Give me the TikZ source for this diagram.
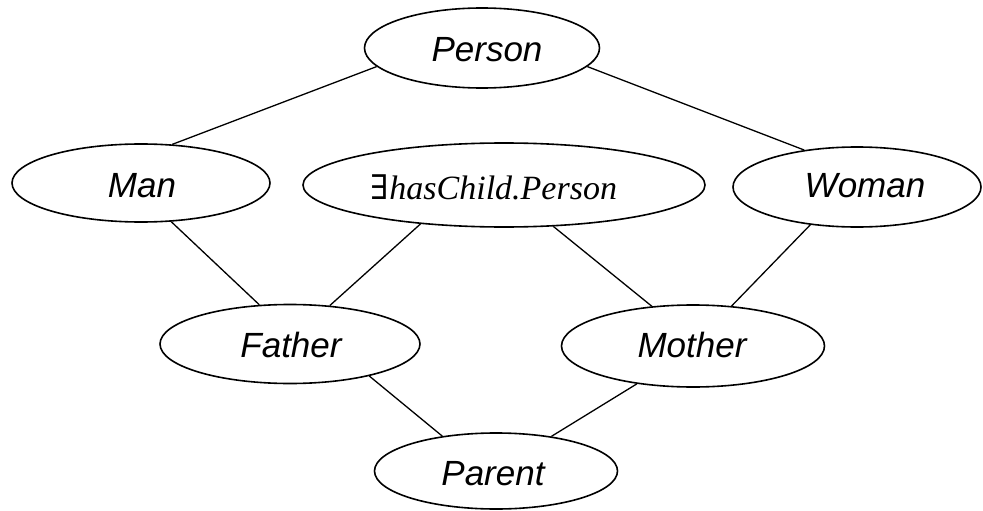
\documentclass[tikz,border=0pt]{standalone}
\usepackage{fontspec}
\setmainfont{Liberation Sans}
\newfontfamily\serifit{Liberation Serif}
\newfontfamily\dejaserif{DejaVu Serif}
\usetikzlibrary{shapes.geometric}
\begin{document}
\begin{tikzpicture}[x=1pt,y=-1pt,
  ell/.style={ellipse, draw, line width=1.6pt, inner sep=0pt},
  lbl/.style={font=\fontsize{35}{40}\selectfont\itshape, inner sep=0pt, text height=25pt, text depth=0pt},
  slbl/.style={font=\fontsize{34}{40}\selectfont\serifit\itshape, inner sep=0pt, text height=23pt, text depth=0pt},
  conn/.style={line width=1.3pt}]
\useasboundingbox (0,0) rectangle (983,511);
\node[ell, minimum width=235pt, minimum height=80pt] (person) at (482,48) {};
\node[ell, minimum width=258pt, minimum height=78pt] (man) at (141,183) {};
\node[ell, minimum width=402pt, minimum height=84pt] (has) at (504,185) {};
\node[ell, minimum width=248pt, minimum height=80pt] (woman) at (857,187) {};
\node[ell, minimum width=260pt, minimum height=79pt] (father) at (290,344) {};
\node[ell, minimum width=263pt, minimum height=82pt] (mother) at (693,346) {};
\node[ell, minimum width=243pt, minimum height=76pt] (parent) at (496,471) {};
\node[lbl] (personlbl) at (487,49) {Person};
\node[lbl] (manlbl) at (142,185) {Man};
\node[slbl] (haslbl) at (494,188) {{\upshape\dejaserif ∃}hasChild.Person};
\node[lbl] (womanlbl) at (865,185) {Woman};
\node[lbl] (fatherlbl) at (291,345) {Father};
\node[lbl] (motherlbl) at (692,345) {Mother};
\node[lbl] (parentlbl) at (493,473) {Parent};
\draw[conn] (person.190) -- (man.51);
\draw[conn] (person.350) -- (woman.145);
\draw[conn] (man.308) -- (father.128);
\draw[conn] (has.205) -- (father.44);
\draw[conn] (has.320) -- (mother.136);
\draw[conn] (woman.219) -- (mother.46);
\draw[conn] (father.338) -- (parent.147);
\draw[conn] (mother.214) -- (parent.32);
\end{tikzpicture}
\end{document}
